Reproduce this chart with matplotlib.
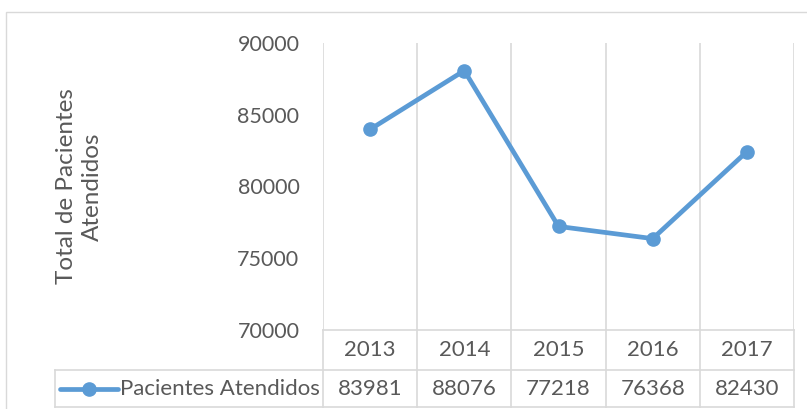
import matplotlib.pyplot as plt
from matplotlib.patches import Rectangle
from matplotlib.lines import Line2D

# datos
anios = ['2013', '2014', '2015', '2016', '2017']
pacientes = [83981, 88076, 77218, 76368, 82430]
serie = 'Pacientes Atendidos'
y_ticks = [70000, 75000, 80000, 85000, 90000]

plt.rcParams['font.family'] = ['Lato', 'DejaVu Sans']
azul = '#5b9bd5'
gris_txt = '#595959'
gris_lin = '#d9d9d9'

W, H = 807, 409
fig = plt.figure(figsize=(W / 100, H / 100), dpi=100)

def px(x0, y0, x1, y1):
    # rect en pixeles (top-left origen) -> coords de figura
    return [x0 / W, 1 - y1 / H, (x1 - x0) / W, (y1 - y0) / H]

# borde exterior del grafico
fig.patches.append(Rectangle((6 / W, -0.1), 1.2, 1 - 12 / H + 0.1,
                             transform=fig.transFigure, fill=False,
                             edgecolor=gris_lin, linewidth=1))

ax = fig.add_axes(px(323, 43, 794, 330))
x = list(range(len(anios)))
ax.plot(x, pacientes, color=azul, linewidth=3.4, marker='o', markersize=9.5,
        solid_capstyle='round', zorder=3)
ax.set_xlim(-0.5, len(anios) - 0.5)
ax.set_ylim(y_ticks[0], y_ticks[-1])
ax.set_yticks(y_ticks)
ax.set_yticklabels([str(v) for v in y_ticks], fontsize=15.5, color=gris_txt)
ax.tick_params(axis='y', length=0, pad=17)
ax.set_xticks([])
for s in ax.spines.values():
    s.set_visible(False)
ax.set_ylabel('Total de Pacientes\nAtendidos', fontsize=17.5, color=gris_txt,
              linespacing=1.3)
ax.yaxis.set_label_coords((103 - 323) / 471, 0.5)

# tabla de datos debajo
tb = fig.add_axes(px(323, 330, 794, 407), sharex=ax)
tb.set_ylim(0, 77)
tb.axis('off')
x_izq = -0.5 - (323 - 55) / 94.2
# lineas verticales (rejilla que atraviesa la tabla)
for i in range(len(anios) + 1):
    xv = i - 0.5
    ax.axvline(xv, color=gris_lin, linewidth=1.2, zorder=1)
    tb.plot([xv, xv], [0, 77], color=gris_lin, linewidth=1.2, clip_on=False)
tb.plot([-0.5, len(anios) - 0.5], [77, 77], color=gris_lin, linewidth=1.2, clip_on=False)
tb.plot([x_izq, len(anios) - 0.5], [37, 37], color=gris_lin, linewidth=1.2, clip_on=False)
tb.plot([x_izq, len(anios) - 0.5], [0, 0], color=gris_lin, linewidth=1.2, clip_on=False)
tb.plot([x_izq, x_izq], [0, 37], color=gris_lin, linewidth=1.2, clip_on=False)

for i, (a, v) in enumerate(zip(anios, pacientes)):
    tb.text(i, 57, a, ha='center', va='center', fontsize=16, color=gris_txt)
    tb.text(i, 18, str(v), ha='center', va='center', fontsize=16, color=gris_txt)

# leyenda dentro de la tabla
lx0 = x_izq + 5 / 94.2
lx1 = x_izq + 63 / 94.2
tb.add_line(Line2D([lx0, lx1], [18, 18], color=azul, linewidth=3.4,
                   solid_capstyle='round', clip_on=False))
tb.plot([(lx0 + lx1) / 2], [18], 'o', color=azul, markersize=9.5, clip_on=False)
tb.text(x_izq + 65 / 94.2, 18, serie, ha='left', va='center', fontsize=16,
        color=gris_txt)

fig.savefig('out.png', dpi=100)
